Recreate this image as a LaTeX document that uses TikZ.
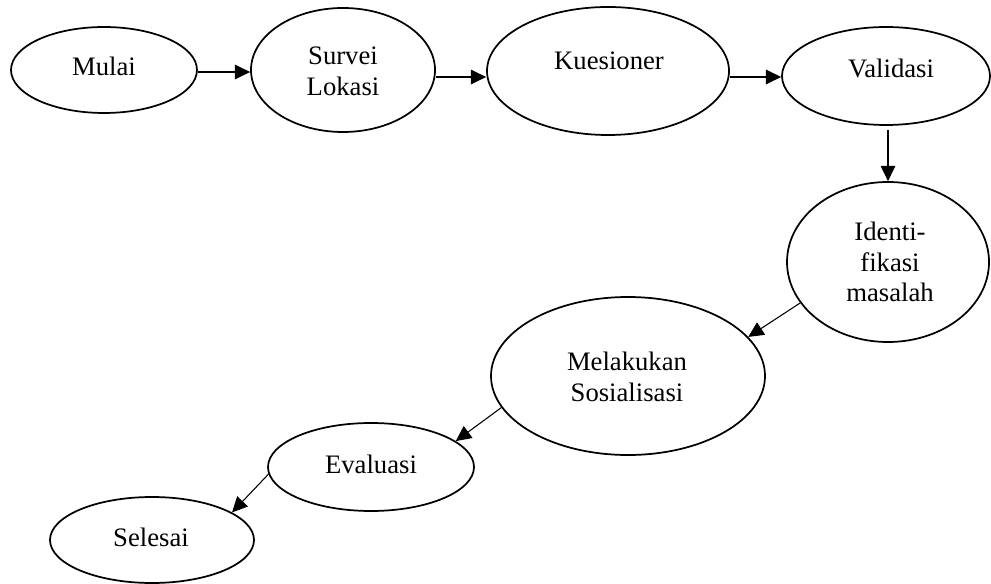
\documentclass[tikz,border=0pt]{standalone}
\usepackage{fontspec}
\setmainfont{Liberation Serif}
\usetikzlibrary{shapes.geometric,arrows.meta}
\tikzset{
  ell/.style 2 args={ellipse, draw, line width=1.3pt, minimum width=#1*1.5pt, minimum height=#2*1.5pt, inner sep=0pt},
  txt/.style={inner sep=0pt, align=center, font=\fontsize{20}{23}\selectfont},
  arr/.style={line width=0.8pt, -{Triangle[length=11.5pt,width=11pt]}}
}
\begin{document}
\begin{tikzpicture}[x=0.75pt,y=-0.75pt]
\useasboundingbox (0,0) rectangle (991,584);
% ellipses
\node[ell={93}{43}]  (Mulai)  at (104,70) {};
\node[ell={92}{62}]  (Survei) at (343,70) {};
\node[ell={121}{64}] (Kues)   at (608,71) {};
\node[ell={104}{49}] (Val)    at (886,76) {};
\node[ell={101}{80}] (Ident)  at (888,262) {};
\node[ell={137}{79}] (Melak)  at (628,376) {};
\node[ell={103}{44}] (Eval)   at (371,467) {};
\node[ell={102}{43}] (Sel)    at (152,540) {};
% texts
\node[txt] (tMulai)  at (104,66) {Mulai};
\node[txt] (tSurvei) at (343,71) {Survei\\Lokasi};
\node[txt] (tKues)   at (609,61) {Kuesioner};
\node[txt] (tVal)    at (891,68) {Validasi};
\node[txt] (tIdent)  at (890,262) {Identi-\\fikasi\\masalah};
\node[txt] (tMelak)  at (627,377) {Melakukan\\Sosialisasi};
\node[txt] (tEval)   at (371,464) {Evaluasi};
\node[txt] (tSel)    at (151,537) {Selesai};
% connectors
\draw[arr] ([yshift=-1.5pt]Mulai.east) -- ([yshift=-1.5pt]Survei.west);
\draw[arr] ([yshift=-5.25pt]Survei.east) -- ([yshift=-4.5pt]Kues.west);
\draw[arr] ([yshift=-4.5pt]Kues.east) -- ([yshift=-0.75pt]Val.west);
\draw[arr] ([xshift=1.5pt,yshift=-3pt]Val.south) -- (Ident.north);
\draw[arr] (Ident.205.5) -- (Melak.18);
\draw[arr] (Melak.194) -- (Eval.17.4);
\draw[arr] (Eval.184.7) -- (Sel.19.3);
\end{tikzpicture}
\end{document}
